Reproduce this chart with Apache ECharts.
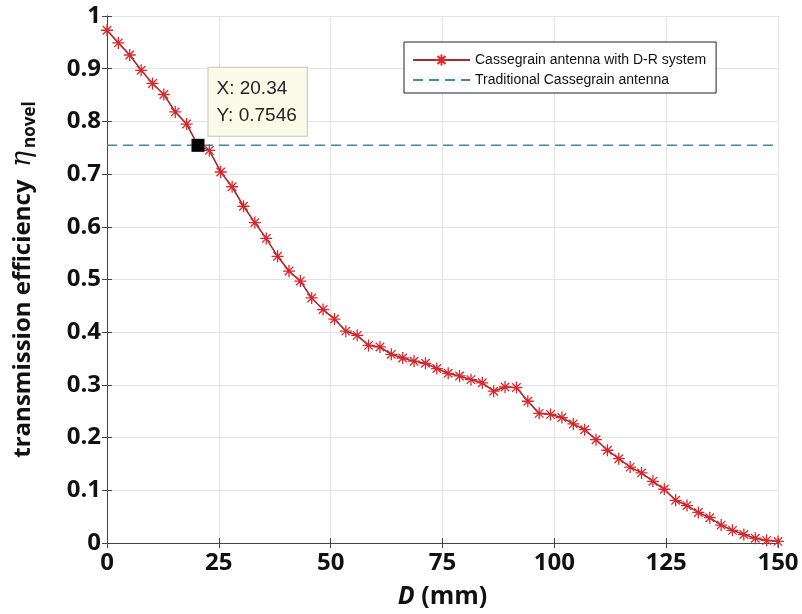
<!DOCTYPE html>
<html>
<head>
<meta charset="utf-8">
<script src="https://cdn.jsdelivr.net/npm/echarts@6/dist/echarts.min.js"></script>
<style>html,body{margin:0;padding:0;background:#fff}#c{width:802px;height:614px}</style>
</head>
<body>
<div id="c"></div>
<script>
const xValues = [0,2.54,5.08,7.63,10.17,12.71,15.25,17.80,20.34,22.88,25.42,27.97,30.51,33.05,35.59,38.14,40.68,43.22,45.76,48.31,50.85,53.39,55.93,58.47,61.02,63.56,66.10,68.64,71.19,73.73,76.27,78.81,81.36,83.90,86.44,88.98,91.53,94.07,96.61,99.15,101.69,104.24,106.78,109.32,111.86,114.41,116.95,119.49,122.03,124.58,127.12,129.66,132.20,134.75,137.29,139.83,142.37,144.92,147.46,150];
const novelEff = [0.973,0.949,0.926,0.897,0.872,0.851,0.818,0.795,0.7546,0.745,0.704,0.676,0.639,0.608,0.578,0.544,0.516,0.497,0.465,0.443,0.425,0.402,0.394,0.375,0.372,0.358,0.351,0.345,0.341,0.331,0.322,0.317,0.310,0.304,0.288,0.296,0.295,0.269,0.246,0.244,0.238,0.226,0.215,0.196,0.176,0.160,0.144,0.133,0.117,0.102,0.081,0.071,0.058,0.048,0.034,0.024,0.016,0.009,0.005,0.003];
const traditionalEff = 0.7546;
const xRange = [0, 150];
const dataTip = {x: 20.34, y: 0.7546};
const seriesNames = ['Cassegrain antenna with D-R system', 'Traditional Cassegrain antenna'];

const star = 'path://M0,-10L0,10M-10,0L10,0M-7.07,-7.07L7.07,7.07M-7.07,7.07L7.07,-7.07';
const boldFont = 'Open Sans';
const dashColor = '#3f88a8';

const chart = echarts.init(document.getElementById('c'), null, {renderer: 'canvas'});
const hiddenAxis = {
  axisLine: {show: true, lineStyle: {color: '#444', width: 1}},
  axisTick: {show: true, inside: true, length: 5, lineStyle: {color: '#444'}},
  axisLabel: {show: false},
  splitLine: {show: false}
};
chart.setOption({
  backgroundColor: '#fff',
  animation: false,
  grid: {left: 107, right: 24, top: 16, bottom: 71, containLabel: false},
  legend: {
    left: 404, top: 42,
    orient: 'vertical',
    backgroundColor: '#fff',
    borderColor: '#222', borderWidth: 1,
    padding: [11, 10, 6, 8],
    itemGap: 6,
    itemWidth: 57, itemHeight: 14,
    textStyle: {fontFamily: 'Liberation Sans', fontSize: 14, color: '#111'},
    data: [seriesNames[0], {name: seriesNames[1], itemStyle: {opacity: 0}}]
  },
  xAxis: [{
    type: 'value', min: xRange[0], max: xRange[1], interval: 25,
    position: 'bottom',
    name: '{d|D}{m| (mm)}',
    nameLocation: 'middle', nameGap: 41,
    nameTextStyle: {rich: {
      d: {fontFamily: boldFont, fontSize: 25, fontWeight: 'bold', fontStyle: 'italic', color: '#111'},
      m: {fontFamily: boldFont, fontSize: 25, fontWeight: 'bold', color: '#111'}
    }},
    axisLine: {show: true, lineStyle: {color: '#444', width: 1}},
    axisTick: {show: true, inside: true, length: 5, lineStyle: {color: '#444'}},
    axisLabel: {fontFamily: boldFont, fontSize: 24, fontWeight: 'bold', color: '#111', margin: 8},
    splitLine: {show: true, lineStyle: {color: '#e3e3e3', width: 1}}
  }, Object.assign({type: 'value', min: xRange[0], max: xRange[1], interval: 25, position: 'top'}, hiddenAxis)],
  yAxis: [{
    type: 'value', min: 0, max: 1, interval: 0.1,
    position: 'left',
    name: '{a|transmission efficiency  }{e|η}{s|novel}',
    nameLocation: 'middle', nameGap: 68,
    nameTextStyle: {rich: {
      a: {fontFamily: boldFont, fontSize: 24, fontWeight: 'bold', color: '#111', lineHeight: 32, verticalAlign: 'middle'},
      e: {fontFamily: 'DejaVu Serif', fontSize: 27, fontStyle: 'italic', color: '#111', lineHeight: 32, verticalAlign: 'middle', padding: [0, 3, 0, 0]},
      s: {fontFamily: boldFont, fontSize: 17, fontWeight: 'bold', color: '#111', lineHeight: 32, verticalAlign: 'bottom', padding: [10, 0, 0, 0]}
    }},
    axisLine: {show: true, lineStyle: {color: '#444', width: 1}},
    axisTick: {show: true, inside: true, length: 5, lineStyle: {color: '#444'}},
    axisLabel: {fontFamily: boldFont, fontSize: 24, fontWeight: 'bold', color: '#111', margin: 6},
    splitLine: {show: true, lineStyle: {color: '#e3e3e3', width: 1}}
  }, Object.assign({type: 'value', min: 0, max: 1, interval: 0.1, position: 'right'}, hiddenAxis)],
  series: [{
    name: seriesNames[0],
    type: 'line',
    data: xValues.map((x, i) => [x, novelEff[i]]),
    symbol: star, symbolSize: 12, showAllSymbol: true,
    lineStyle: {color: '#a82a2c', width: 1.6},
    itemStyle: {color: 'rgba(0,0,0,0)', borderColor: '#d8282c', borderWidth: 1.3},
    z: 3
  }, {
    name: seriesNames[1],
    type: 'line',
    data: [[xRange[0], traditionalEff], [xRange[1], traditionalEff]],
    symbol: 'none',
    lineStyle: {color: dashColor, width: 1.5, type: [10, 6]},
    itemStyle: {color: dashColor},
    z: 2
  }, {
    type: 'scatter',
    data: [[dataTip.x, dataTip.y]],
    symbol: 'rect', symbolSize: 13,
    itemStyle: {color: '#000', opacity: 1},
    z: 5,
    label: {
      show: true,
      position: [17, -71],
      formatter: () => 'X: ' + dataTip.x + '\nY: ' + dataTip.y,
      fontFamily: 'Liberation Sans', fontSize: 19, color: '#222', lineHeight: 27,
      backgroundColor: '#fbfbea', borderColor: '#c4c4b4', borderWidth: 1,
      padding: [7, 10, 7, 8]
    }
  }]
});
</script>
</body>
</html>
